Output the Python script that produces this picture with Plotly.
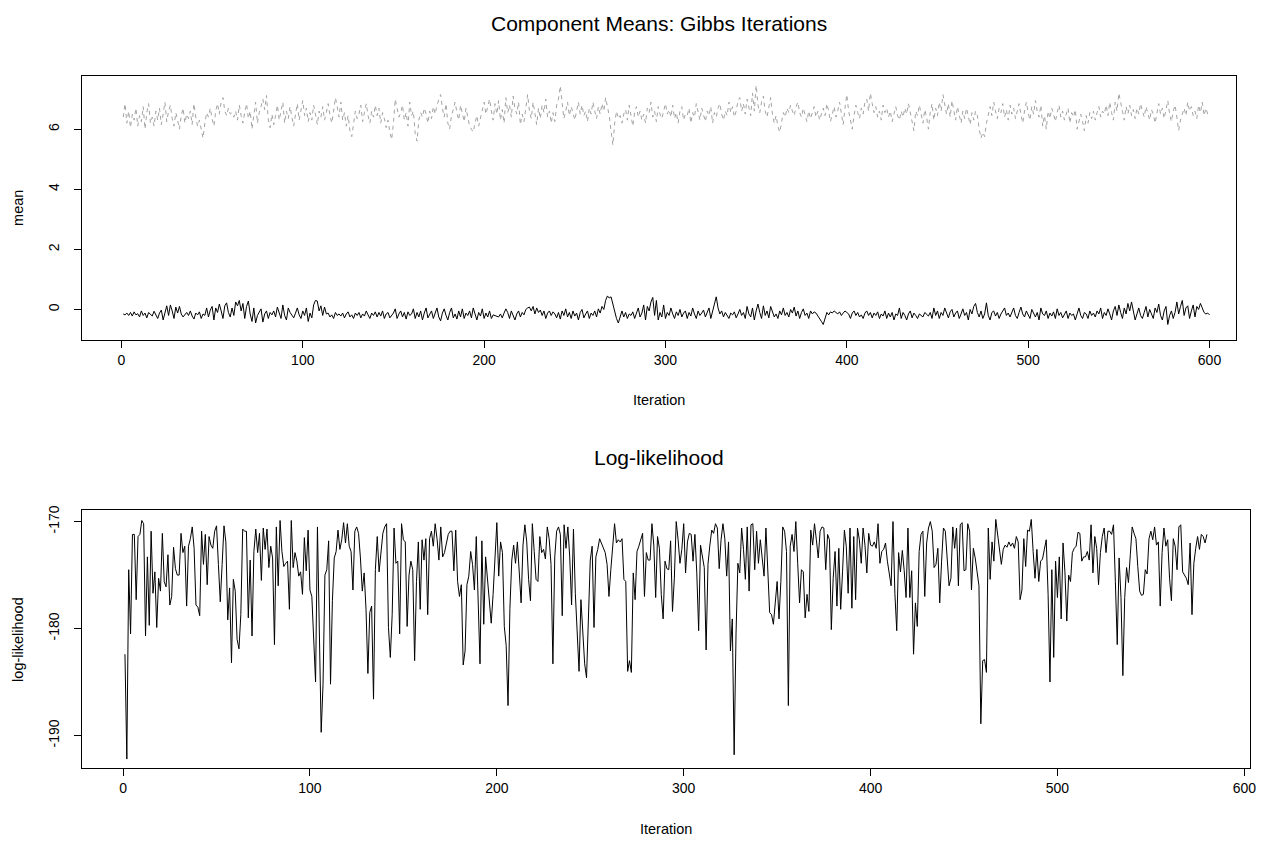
import plotly.graph_objects as go

# ---- data ----
mean_comp1 = [
-0.15,-0.18,-0.12,-0.2,-0.1,-0.22,-0.08,-0.18,-0.14,-0.25,-0.05,-0.2,-0.12,-0.28,-0.1,-0.15,-0.22,-0.06,-0.18,-0.3,
-0.12,-0.02,-0.35,-0.1,0.12,-0.2,0.15,-0.05,-0.3,0.08,-0.12,0.1,-0.15,-0.25,-0.18,-0.1,-0.2,-0.05,-0.22,-0.32,
-0.12,-0.18,-0.08,-0.3,-0.15,-0.2,0.05,-0.25,-0.02,0.1,-0.35,0.05,-0.1,0.18,-0.05,-0.3,0.12,0.22,-0.1,-0.25,
0.05,-0.2,0.25,0.12,0.3,-0.05,0.2,-0.3,0.1,0.28,-0.15,-0.4,0.05,-0.45,-0.2,-0.1,0.02,-0.42,-0.15,-0.05,
-0.3,-0.1,-0.18,-0.05,-0.25,0.08,-0.12,-0.3,0.15,-0.2,-0.35,0.05,-0.1,-0.2,-0.28,-0.12,0.05,-0.18,-0.3,-0.05,
-0.2,0.05,-0.4,-0.12,-0.28,0.15,0.3,0.28,-0.05,0.12,-0.2,0.08,-0.15,-0.12,-0.25,-0.18,-0.3,-0.1,-0.2,-0.15,
-0.22,-0.12,-0.28,-0.15,-0.08,-0.25,-0.18,-0.3,-0.12,-0.2,-0.1,-0.28,-0.15,-0.22,-0.05,-0.18,-0.3,-0.12,-0.2,-0.08,
-0.25,-0.1,-0.22,-0.05,-0.3,-0.15,-0.1,-0.28,-0.2,-0.12,0.02,-0.3,-0.15,-0.05,-0.25,-0.1,-0.32,-0.08,-0.2,-0.15,
0.02,-0.3,-0.1,-0.25,-0.05,-0.35,-0.12,0.05,-0.28,-0.15,-0.05,-0.3,-0.1,0.05,-0.25,-0.38,-0.12,0.02,-0.2,-0.35,
-0.1,0.05,-0.28,-0.15,-0.32,-0.05,-0.25,0.02,-0.3,-0.12,-0.2,-0.05,-0.28,0.05,-0.15,-0.35,-0.1,-0.22,0.02,-0.3,
-0.12,-0.25,-0.05,-0.3,-0.18,-0.2,-0.22,-0.25,-0.15,-0.28,-0.12,0.02,-0.1,-0.3,-0.05,-0.2,-0.35,-0.15,-0.05,-0.25,
-0.1,-0.18,0.0,0.05,0.08,-0.05,0.1,-0.15,0.05,-0.1,-0.02,-0.2,-0.05,-0.3,-0.12,-0.05,-0.2,-0.08,-0.15,-0.28,
-0.1,-0.32,-0.05,-0.2,0.02,-0.25,-0.1,-0.3,-0.05,-0.22,-0.12,-0.35,-0.1,0.0,-0.28,-0.15,-0.05,-0.3,-0.12,-0.2,
-0.05,-0.25,0.02,-0.12,0.1,0.0,0.3,0.45,0.38,0.42,0.15,-0.1,-0.3,-0.45,-0.2,-0.05,-0.25,-0.1,-0.3,-0.15,
-0.2,-0.08,-0.3,-0.1,0.05,-0.25,-0.12,0.15,-0.35,0.1,-0.05,0.25,0.4,-0.2,0.3,-0.35,-0.1,-0.25,0.15,-0.3,
-0.1,-0.2,0.05,-0.15,-0.3,-0.08,-0.2,0.0,-0.25,-0.12,-0.05,-0.3,-0.1,-0.22,0.05,-0.15,-0.3,-0.05,-0.2,-0.12,
-0.02,-0.25,-0.1,0.05,-0.3,-0.05,0.15,0.42,0.05,-0.15,-0.05,-0.25,-0.1,-0.2,-0.3,-0.12,-0.18,-0.08,-0.28,-0.15,
0.0,-0.2,-0.1,-0.3,0.1,-0.15,-0.25,0.05,-0.35,-0.05,0.18,-0.1,-0.3,0.12,-0.2,-0.05,-0.28,0.1,-0.1,-0.25,
-0.15,-0.3,-0.05,-0.18,0.05,-0.2,-0.1,-0.25,0.0,-0.12,0.08,-0.22,-0.05,-0.3,-0.1,0.02,-0.2,-0.12,-0.3,-0.05,
-0.15,-0.08,-0.12,-0.2,-0.3,-0.4,-0.5,-0.25,-0.1,-0.18,-0.08,-0.12,-0.05,-0.1,-0.15,-0.08,-0.2,-0.12,-0.05,-0.1,
-0.15,-0.3,-0.12,-0.05,-0.2,-0.1,-0.25,-0.18,-0.3,-0.12,-0.05,-0.2,-0.1,-0.28,-0.12,-0.2,-0.08,-0.3,-0.15,-0.22,
-0.05,-0.3,-0.12,-0.25,-0.1,-0.35,-0.15,-0.2,0.05,-0.3,-0.1,-0.2,-0.35,-0.15,-0.05,-0.28,-0.12,-0.2,-0.3,-0.15,
-0.2,-0.25,-0.1,-0.15,-0.22,-0.1,-0.3,0.05,-0.2,-0.05,-0.3,-0.1,-0.2,0.05,-0.15,-0.28,-0.08,0.0,-0.25,-0.12,
-0.05,-0.3,-0.15,0.02,-0.2,-0.1,-0.35,0.0,-0.15,0.1,0.2,-0.1,-0.25,-0.05,-0.3,-0.15,0.22,-0.2,-0.35,-0.1,
-0.05,-0.22,-0.1,-0.3,-0.15,-0.05,0.05,-0.2,-0.12,-0.25,-0.08,0.05,-0.2,-0.3,-0.1,0.08,-0.15,-0.25,-0.05,-0.2,
-0.3,0.0,-0.12,-0.25,-0.1,-0.35,0.05,-0.15,-0.2,-0.05,-0.3,-0.12,-0.22,-0.08,-0.3,0.02,-0.2,-0.1,-0.28,-0.15,
-0.05,-0.3,-0.12,-0.2,-0.15,-0.35,-0.1,0.05,-0.2,-0.3,-0.1,-0.15,-0.3,-0.05,-0.2,-0.12,-0.25,-0.05,-0.15,0.05,
-0.3,-0.1,-0.2,0.02,-0.15,-0.35,-0.05,0.1,-0.2,0.15,-0.1,-0.3,0.05,-0.15,0.2,-0.05,0.25,-0.1,-0.35,-0.15,
0.05,-0.2,-0.3,-0.1,0.1,-0.25,0.0,-0.15,-0.3,0.05,-0.1,0.18,-0.2,-0.35,-0.05,0.1,-0.5,-0.2,-0.05,-0.3,
-0.1,0.25,-0.15,0.1,0.3,-0.2,0.05,0.12,-0.3,-0.05,0.15,-0.25,0.1,0.0,0.2,0.05,-0.1,-0.15,-0.12,-0.18,
]

mean_comp2 = [
6.4,6.85,6.2,6.6,6.05,6.5,6.3,6.7,6.1,6.45,6.25,6.75,6.0,6.55,6.85,6.2,6.4,6.1,6.6,6.3,
6.7,6.15,6.5,6.9,6.25,6.6,6.8,6.35,6.1,6.55,6.3,6.0,6.45,6.7,6.2,6.5,6.35,6.6,6.15,6.85,
6.4,6.1,6.3,5.95,5.7,6.2,6.55,6.4,6.7,6.35,6.1,6.6,6.85,6.5,6.9,7.05,6.6,6.45,6.7,6.5,
6.55,6.4,6.6,6.3,6.8,6.45,6.2,6.55,6.85,6.35,6.6,6.0,6.4,6.9,6.2,6.55,6.75,7.0,6.65,7.12,
6.3,6.05,6.5,6.15,6.45,6.8,6.3,6.55,6.9,6.2,6.6,6.35,6.75,6.4,6.1,6.5,6.85,6.3,6.6,6.95,
6.45,6.7,6.25,6.55,6.3,6.8,6.5,6.15,6.6,6.4,6.75,6.3,6.55,6.85,6.45,6.2,6.6,7.05,6.75,6.4,
6.9,6.3,6.55,6.1,6.45,5.95,5.75,6.2,6.6,6.35,6.5,6.8,6.25,6.55,6.85,6.45,6.2,6.6,6.4,6.8,
6.45,6.7,6.2,6.55,6.35,6.05,6.3,5.9,5.65,6.2,7.0,6.7,6.4,6.55,6.8,6.3,6.55,6.1,6.9,6.45,
6.6,5.85,5.6,6.3,6.55,6.4,6.7,6.5,6.2,6.6,6.35,6.75,6.5,6.8,6.95,7.15,6.7,6.4,6.85,6.2,
6.0,6.45,6.65,6.9,6.55,6.3,6.8,6.5,6.25,6.7,6.45,6.1,6.0,5.9,6.2,6.45,6.1,6.35,6.6,6.9,
6.5,6.75,7.0,6.6,6.3,6.85,6.5,6.95,6.3,6.65,6.2,7.05,6.55,6.8,6.4,7.1,6.7,6.5,6.9,6.15,
6.5,6.25,6.75,7.15,6.6,6.35,6.9,6.5,6.15,6.7,6.35,6.8,6.55,7.0,6.4,6.6,6.2,6.55,6.25,6.8,
7.0,7.44,6.8,6.35,6.6,6.9,6.45,6.75,6.55,6.3,6.6,6.9,6.5,6.8,6.45,6.6,6.25,6.7,6.5,6.9,
6.6,6.35,6.75,6.5,6.85,6.6,7.05,6.7,6.45,5.95,5.47,6.2,6.6,6.35,6.45,6.2,6.5,6.65,6.3,6.8,
6.45,6.1,6.55,6.75,6.4,6.6,6.3,6.5,6.2,6.7,6.55,6.9,6.4,6.6,6.25,6.75,6.5,6.35,6.6,6.85,
6.5,6.65,6.4,6.8,6.35,6.55,6.2,6.6,6.75,6.3,6.5,6.45,6.7,6.2,6.55,6.4,6.85,6.6,6.3,6.7,
6.5,6.25,6.6,6.45,6.75,6.2,6.55,6.4,6.7,6.85,6.5,6.3,6.6,6.45,6.9,6.55,6.75,6.4,6.6,6.95,
7.05,6.6,6.85,6.5,7.0,6.7,6.45,7.2,6.6,7.46,6.8,6.55,6.9,7.1,6.6,6.4,6.75,7.05,6.5,6.2,
6.45,6.1,5.9,6.3,6.55,6.4,6.7,6.55,6.8,6.6,6.45,6.75,6.9,6.55,6.4,6.7,6.5,6.25,6.6,6.35,
6.55,6.75,6.4,6.6,6.3,6.5,6.7,6.45,6.85,6.6,6.25,6.5,6.75,6.4,6.6,6.9,6.5,6.15,6.7,7.15,
6.6,6.3,6.0,6.45,6.8,6.55,6.35,6.7,6.5,6.9,7.0,6.6,7.2,6.85,6.55,6.75,6.4,6.6,6.3,6.8,
6.55,6.7,6.4,6.6,6.25,6.5,6.75,6.45,6.3,6.6,6.4,6.7,6.5,6.85,6.55,6.3,5.95,6.6,6.45,6.8,
6.5,6.2,6.65,6.4,6.0,6.55,6.85,6.3,6.7,6.45,6.9,6.6,7.15,6.75,6.5,6.85,6.4,6.95,6.6,6.3,
6.75,6.5,6.2,6.6,6.35,6.7,6.4,6.15,6.55,6.3,6.6,6.45,6.0,5.7,5.9,5.75,6.2,6.5,6.75,6.45,
6.9,6.6,6.35,6.7,6.55,6.85,6.4,6.65,6.3,6.8,6.5,6.7,6.35,6.6,6.85,6.5,6.2,6.6,6.9,6.55,
6.3,6.75,6.5,6.95,6.6,6.4,6.8,6.1,6.45,6.0,6.6,6.35,6.7,6.5,6.25,6.55,6.8,6.4,6.6,6.3,
6.5,6.7,6.2,6.55,6.4,6.65,6.0,6.3,6.5,6.25,5.95,6.45,6.2,6.55,6.35,6.6,6.3,6.55,6.75,6.4,
6.6,6.5,6.8,6.45,6.9,6.55,6.3,6.9,6.6,7.2,6.85,6.6,6.3,6.75,6.5,6.8,6.45,6.65,6.35,6.7,
6.5,6.85,6.6,6.4,6.75,6.55,6.3,6.65,6.5,6.2,6.6,6.85,6.5,6.7,6.35,6.6,6.95,6.5,6.25,6.6,
6.8,6.4,5.95,6.3,6.55,6.7,6.45,6.9,6.6,6.75,6.45,6.6,6.35,6.8,6.55,6.9,6.45,6.7,6.5,6.6,
]

loglik = [
-182.4,-192.2,-174.5,-180.5,-171.2,-171.2,-177.3,-171.4,-171.2,-169.9,
-170.2,-180.7,-173.3,-179.7,-170.9,-176.7,-174.7,-179.9,-175.3,-176.5,
-171.1,-175.6,-176.1,-173.1,-177.8,-177.0,-172.4,-174.4,-175.0,-175.0,
-171.1,-172.9,-172.3,-177.9,-172.3,-171.6,-170.5,-172.5,-177.8,-178.0,
-178.8,-170.9,-174.0,-171.2,-175.9,-171.4,-172.2,-172.5,-170.9,-170.4,
-174.0,-177.5,-174.0,-170.4,-171.9,-179.2,-176.2,-183.2,-175.4,-176.5,
-181.0,-181.9,-178.7,-170.7,-170.9,-170.9,-179.0,-173.6,-180.7,-172.8,
-170.7,-172.9,-171.1,-175.5,-170.6,-172.6,-170.7,-174.3,-172.3,-173.4,
-181.5,-170.5,-176.0,-169.9,-172.8,-174.2,-173.9,-173.7,-178.2,-169.9,
-174.3,-172.9,-173.7,-175.1,-174.7,-176.8,-171.5,-174.6,-170.8,-176.4,
-177.0,-180.5,-185.0,-170.5,-180.2,-189.7,-185.2,-175.0,-174.5,-171.8,
-185.2,-177.4,-173.4,-172.8,-170.8,-172.6,-171.7,-170.1,-172.0,-170.2,
-172.3,-172.8,-176.4,-170.9,-170.5,-171.1,-173.4,-176.5,-174.8,-178.2,
-184.2,-178.5,-177.9,-186.6,-174.5,-171.4,-174.7,-172.9,-171.1,-170.5,
-170.2,
-179.9,-182.7,-178.7,-170.6,-173.9,-173.7,-180.5,-170.2,-171.7,-171.9,
-179.8,-175.0,-173.7,-174.5,-183.0,-175.6,-171.9,-178.2,-171.7,-173.6,
-171.6,-178.7,-171.6,-170.9,-172.3,-170.2,-171.6,-173.6,-170.5,-173.3,
-172.9,-172.0,-171.2,-170.9,-170.9,-174.6,-170.8,-175.6,-177.0,-175.9,
-183.4,-182.1,-175.9,-175.1,-172.8,-174.0,-176.4,-171.4,-177.1,-183.3,
-171.8,-179.6,-173.3,-175.3,-177.6,-179.5,-176.8,-173.7,-170.1,-175.1,
-171.9,-172.9,-179.8,-181.6,-187.2,-178.1,-173.6,-172.2,-173.9,-171.9,
-174.7,-177.6,-172.2,-170.3,-171.9,-175.4,-177.4,-170.2,-172.8,-175.4,
-175.6,-171.4,-172.9,-172.6,-173.5,-170.5,-171.6,-174.0,-183.3,-173.3,
-170.9,-170.5,-171.2,-178.8,-170.3,-172.5,-170.5,-173.3,-177.8,-170.7,
-176.7,-180.9,-184.0,-177.3,-180.9,-183.3,-184.6,-179.9,-173.6,-172.3,
-179.9,-173.3,-172.6,-171.6,-172.0,-172.5,-172.9,-174.0,-177.0,-174.5,
-172.0,-170.2,-172.0,-171.7,-171.9,-171.6,-175.4,-175.6,-184.0,-183.0,
-184.1,-174.8,-177.3,-172.8,-172.3,-171.6,-171.1,-177.0,-172.9,-173.6,
-173.6,-170.2,-172.2,-177.1,-171.4,-172.5,-176.8,
-179.1,-173.7,-174.4,-174.5,-171.8,-178.4,-175.3,-170.0,-171.7,-173.9,
-172.6,-170.2,-174.8,-171.9,-171.1,-171.2,-173.7,-171.2,-174.8,-180.2,
-172.2,-173.4,-174.3,-182.0,-174.0,-172.2,-170.8,-171.1,-170.2,-170.6,
-174.4,-171.7,-170.2,-171.6,-175.1,-171.9,-182.1,-179.1,-191.8,-180.5,
-173.9,-174.8,-170.6,-172.6,-175.4,-170.5,-176.5,-170.3,-170.2,-174.5,
-170.9,-173.9,-171.7,-173.4,-175.1,-170.6,-175.0,-178.5,-178.7,-179.6,
-177.6,-175.6,-179.1,-175.6,-170.5,-170.9,-172.8,-187.2,-172.3,-171.2,
-172.8,-170.0,-173.9,-177.6,-174.5,-174.7,-179.0,-176.8,-178.4,-170.8,
-172.2,-170.2,-171.7,-173.4,-170.9,-170.5,-170.6,-174.5,-171.2,-171.7,
-180.1,-175.3,-172.8,-177.9,-172.5,-178.2,-174.7,-170.8,-172.3,-176.7,
-170.6,-178.1,-171.4,-177.3,-170.6,-171.7,-173.9,-170.6,-172.2,-174.8,
-171.1,-172.2,-172.3,-171.9,-172.5,-170.2,-173.9,-172.8,-172.6,-172.0,
-173.7,-175.0,-176.0,-170.0,-176.7,-180.2,-172.9,-174.7,-172.7,-174.6,
-177.1,-170.6,-177.1,-174.6,-182.4,-177.6,-179.8,-172.8,-171.2,-170.9,
-177.0,-172.0,-170.6,-170.0,-170.9,-174.3,-174.0,
-172.5,-177.6,-173.7,-170.6,-170.9,-173.4,-176.0,-175.3,-170.5,-172.5,
-170.6,-176.0,-170.3,-170.1,-174.6,-174.5,-170.2,-170.9,-176.4,-172.5,
-173.4,-174.7,-176.0,-188.9,-183.0,-182.9,-184.1,-170.6,-175.4,-171.9,
-173.7,-169.8,-171.2,-172.6,-174.0,-172.6,-172.2,-172.4,-171.9,-172.3,
-172.0,-172.5,-171.4,-171.9,-177.3,-176.4,-171.6,-174.2,-170.8,-170.9,
-169.8,-172.8,-175.3,-172.6,-175.6,-173.7,-173.5,-172.6,-171.7,-176.8,
-185.0,-174.5,-182.7,-173.7,-177.1,-173.3,-179.1,-172.0,-174.7,-179.3,
-175.0,-175.6,-172.9,-172.5,-172.3,-171.0,-171.1,-173.7,-173.3,-173.3,
-172.8,-173.6,-170.3,-174.8,-171.4,-172.5,-175.9,-172.9,-171.4,-170.6,
-172.9,-170.9,-170.9,-171.2,-170.3,-175.6,-181.5,-173.4,-177.1,-184.4,
-177.1,-174.3,-175.7,-173.1,-170.5,-171.1,-171.6,-174.2,-176.5,-176.9,
-176.8,-174.5,-174.9,-171.6,-170.9,-171.7,-170.5,-172.2,-171.9,-177.9,
-172.9,-170.6,-172.3,-171.7,-175.3,-177.4,-171.6,-172.3,-174.5,-170.5,
-170.3,-174.7,-175.0,-175.3,-175.9,-172.0,-178.7,-173.9,-172.5,-171.4,
-172.6,-171.2,-171.4,-172.0,-171.2,
]

x_ticks = [0, 100, 200, 300, 400, 500, 600]
top_y_ticks = [0, 2, 4, 6]
bot_y_ticks = [-190, -180, -170]
bot_y_ticktext = ["-190", "-180", "-170"]

iters_top = list(range(1, len(mean_comp1) + 1))
iters_bot = list(range(1, len(loglik) + 1))

W, H = 1277, 846
FONT = "Liberation Sans, Arial, Helvetica, sans-serif"
TICK_SIZE = 14
LAB_SIZE = 14.5
MAIN_SIZE = 21


def px(xp):
    return xp / W


def py(yp):
    return 1 - yp / H


fig = go.Figure()
fig.add_trace(go.Scatter(x=iters_top, y=mean_comp1, mode="lines",
                         line=dict(color="black", width=1), xaxis="x", yaxis="y",
                         showlegend=False, hoverinfo="skip"))
fig.add_trace(go.Scatter(x=iters_top, y=mean_comp2, mode="lines",
                         line=dict(color="#a3a3a3", width=1, dash="4px,4px"), xaxis="x", yaxis="y",
                         showlegend=False, hoverinfo="skip"))
fig.add_trace(go.Scatter(x=iters_bot, y=loglik, mode="lines",
                         line=dict(color="black", width=1), xaxis="x2", yaxis="y2",
                         showlegend=False, hoverinfo="skip"))

axis_common = dict(showgrid=False, zeroline=False, showline=True, linecolor="black",
                   linewidth=1, mirror=True, ticks="outside", ticklen=7, tickwidth=1,
                   tickcolor="black", tickfont=dict(family=FONT, size=TICK_SIZE, color="black"))

fig.update_layout(
    width=W, height=H,
    margin=dict(l=0, r=0, t=0, b=0),
    paper_bgcolor="white", plot_bgcolor="white",
    font=dict(family=FONT, color="black"),
    xaxis=dict(domain=[px(82), px(1242)], range=[-21.95, 614.7], anchor="y",
               tickvals=x_ticks, **axis_common),
    yaxis=dict(domain=[py(338), py(72)], range=[-1.03, 7.78], anchor="x",
               tickvals=top_y_ticks, tickangle=-90, ticklabelstandoff=9, **axis_common),
    xaxis2=dict(domain=[px(82), px(1256)], range=[-22.2, 603.1], anchor="y2",
                tickvals=x_ticks, **axis_common),
    yaxis2=dict(domain=[py(768), py(508)], range=[-193.07, -168.88], anchor="x2",
                tickvals=bot_y_ticks, ticktext=bot_y_ticktext, tickangle=-90,
                ticklabelstandoff=9, **axis_common),
)

ann = [
    dict(text="Component Means: Gibbs Iterations", x=px(662), y=py(20), size=MAIN_SIZE, angle=0),
    dict(text="Log-likelihood", x=px(662), y=py(456), size=MAIN_SIZE, angle=0),
    dict(text="Iteration", x=px(662), y=py(398), size=LAB_SIZE, angle=0),
    dict(text="Iteration", x=px(669), y=py(829), size=LAB_SIZE, angle=0),
    dict(text="mean", x=px(18), y=py(205), size=LAB_SIZE, angle=-90),
    dict(text="log-likelihood", x=px(18), y=py(638), size=LAB_SIZE, angle=-90),
]
for a in ann:
    fig.add_annotation(text=a["text"], x=a["x"], y=a["y"], xref="paper", yref="paper",
                       showarrow=False, textangle=a["angle"], xanchor="center", yanchor="middle",
                       font=dict(family=FONT, size=a["size"], color="black"))

fig.write_html("out.html")
